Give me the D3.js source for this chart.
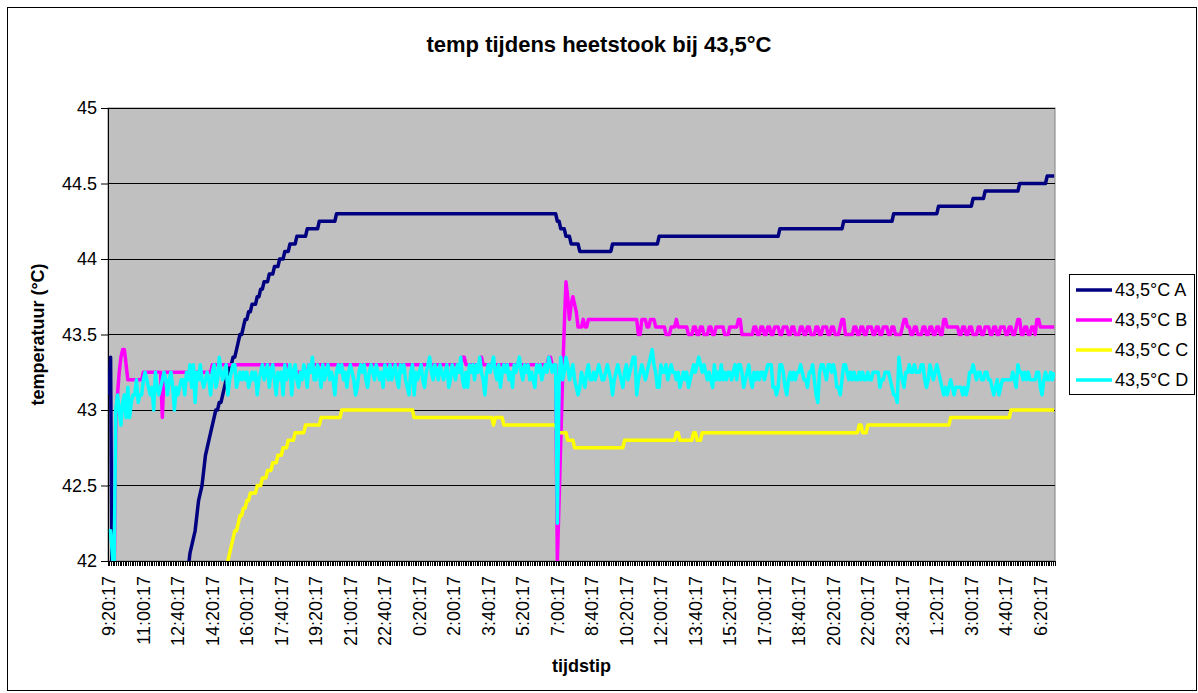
<!DOCTYPE html>
<html>
<head>
<meta charset="utf-8">
<script src="https://cdnjs.cloudflare.com/ajax/libs/d3/7.8.5/d3.min.js"></script>
<style>
    body { margin: 0; background: #fff; }
    text { font-family: "Liberation Sans", Arial, sans-serif; }
</style>
</head>
<body>
<div id="chart"></div>
<script>
// tick labels, one every 20 samples (samples are 5 minutes apart)
var xLabels = ["9:20:17", "11:00:17", "12:40:17", "14:20:17", "16:00:17", "17:40:17", "19:20:17",
    "21:00:17", "22:40:17", "0:20:17", "2:00:17", "3:40:17", "5:20:17", "7:00:17", "8:40:17",
    "10:20:17", "12:00:17", "13:40:17", "15:20:17", "17:00:17", "18:40:17", "20:20:17", "22:00:17",
    "23:40:17", "1:20:17", "3:00:17", "4:40:17", "6:20:17"];
var yTicks = [42, 42.5, 43, 43.5, 44, 44.5, 45];
var seriesNames = ["43,5°C A", "43,5°C B", "43,5°C C", "43,5°C D"];
var seriesColors = ["#000080", "#ff00ff", "#ffff00", "#00ffff"];

// step-like series kept as [value, how many samples]
var runsA = [[43.1,1],[43.35,1],[41.5,40],[41.7,1],[41.75,1],[41.85,1],[41.9,1],[41.95,1],
    [42.05,1],[42.1,1],[42.15,1],[42.2,1],[42.3,1],[42.4,1],[42.45,1],[42.5,1],[42.6,1],[42.7,1],
    [42.75,1],[42.8,1],[42.85,1],[42.9,1],[42.95,1],[43,2],[43.05,2],[43.1,1],[43.15,1],[43.2,1],
    [43.25,1],[43.3,2],[43.35,2],[43.4,1],[43.45,1],[43.5,2],[43.55,1],[43.6,2],[43.65,2],[43.7,3],
    [43.75,2],[43.8,2],[43.85,3],[43.9,3],[43.95,3],[44,3],[44.05,3],[44.1,4],[44.15,6],[44.2,7],
    [44.25,10],[44.3,128],[44.25,2],[44.2,3],[44.15,3],[44.1,5],[44.05,19],[44.1,27],[44.15,70],
    [44.2,37],[44.25,29],[44.3,26],[44.35,20],[44.4,7],[44.45,20],[44.5,16],[44.55,5]];

var runsB = [[41.8,4],[42.95,1],[43.1,1],[43.25,1],[43.35,1],[43.4,2],[43.3,1],[43.2,9],[43.25,11],
    [42.95,1],[43.25,28],[43.3,44],[43.25,12],[43.3,89],[43.35,2],[43.3,9],[43.35,1],[43.3,38],
    [43.35,2],[43.3,3],[42,1],[42.4,1],[42.8,1],[43.2,1],[43.55,1],[43.85,1],[43.75,1],[43.6,1],
    [43.7,1],[43.75,1],[43.7,1],[43.65,1],[43.55,3],[43.6,1],[43.55,2],[43.6,29],[43.5,2],[43.6,3],
    [43.55,2],[43.6,3],[43.55,6],[43.5,3],[43.55,3],[43.6,1],[43.55,6],[43.5,3],[43.55,2],[43.5,2],
    [43.55,2],[43.5,3],[43.55,2],[43.5,2],
    [43.55,5],[43.5,3],[43.55,5],[43.6,2],[43.5,7],[43.55,2],[43.5,2],[43.55,2],[43.5,2],[43.55,2],
    [43.5,2],[43.55,3],[43.5,2],[43.55,3],[43.5,2],[43.55,2],[43.5,3],[43.55,2],[43.5,2],[43.55,2],
    [43.5,3],[43.55,2],[43.5,2],[43.55,3],[43.5,2],[43.55,2],[43.5,3],[43.55,1],[43.6,2],[43.5,5],
    [43.55,2],[43.5,2],[43.55,2],[43.5,2],[43.55,3],[43.5,2],
    [43.55,2],[43.5,2],[43.55,3],[43.5,2],[43.55,2],[43.5,4],[43.55,1],[43.6,2],[43.55,2],[43.5,2],
    [43.55,2],[43.5,3],[43.55,2],[43.5,2],[43.55,2],[43.5,2],[43.55,2],[43.5,2],[43.6,2],[43.55,7],
    [43.5,2],[43.55,2],[43.5,2],[43.55,2],[43.5,3],[43.55,2],[43.5,2],[43.55,3],[43.5,2],[43.55,2],
    [43.5,2],[43.55,3],[43.5,2],[43.55,2],[43.5,2],[43.55,1],[43.6,2],[43.5,2],[43.55,2],[43.5,2],
    [43.55,2],[43.5,1],[43.6,2],[43.55,9]];

var runsC = [[41.5,61],[41.6,1],[41.65,1],[41.7,1],[41.75,1],[41.8,1],[41.85,1],[41.9,1],[41.95,1],
    [42,1],[42.05,1],[42.1,1],[42.15,1],[42.2,2],[42.25,1],[42.3,2],[42.35,2],[42.4,2],[42.45,4],
    [42.5,3],[42.55,3],[42.6,3],[42.65,3],[42.7,3],[42.75,3],[42.8,4],[42.85,6],[42.9,9],[42.95,12],
    [43,42],[42.95,46],[42.9,1],[42.95,5],[42.9,31],[42.85,6],[42.8,4],[42.75,29],[42.8,30],
    [42.85,2],[42.8,8],[42.85,2],[42.8,3],[42.85,91],[42.9,2],[42.85,3],[42.9,48],[42.95,35],[43,26]];

// noisy series, one value per sample (20 per line)
var valuesD = [
    42.2, 42.2, 42.05, 41.9, 43.0, 43.1, 43.0, 42.9, 43.05, 43.1, 42.95, 43.15, 42.95, 43.05, 43.1, 43.1, 43.2, 43.05, 43.1, 43.1,
    43.2, 43.25, 43.2, 43.15, 43.1, 43.15, 43.0, 43.25, 43.15, 43.1, 43.15, 43.2, 43.25, 43.2, 43.1, 43.2, 43.25, 43.15, 43.0, 43.15,
    43.1, 43.15, 43.2, 43.2, 43.1, 43.25, 43.2, 43.3, 43.15, 43.3, 43.05, 43.25, 43.2, 43.3, 43.2, 43.15, 43.2, 43.25, 43.2, 43.1,
    43.25, 43.3, 43.15, 43.2, 43.35, 43.25, 43.2, 43.25, 43.3, 43.1, 43.2, 43.25, 43.3, 43.3, 43.15, 43.2, 43.25, 43.2, 43.25, 43.2,
    43.25, 43.15, 43.2, 43.25, 43.2, 43.25, 43.1, 43.2, 43.25, 43.3, 43.2, 43.25, 43.3, 43.15, 43.25, 43.3, 43.2, 43.1, 43.25, 43.2,
    43.25, 43.1, 43.3, 43.2, 43.25, 43.3, 43.1, 43.25, 43.3, 43.2, 43.15, 43.25, 43.2, 43.3, 43.25, 43.15, 43.3, 43.25, 43.35, 43.2,
    43.2, 43.3, 43.25, 43.15, 43.3, 43.2, 43.25, 43.3, 43.2, 43.25, 43.2, 43.1, 43.25, 43.3, 43.25, 43.3, 43.2, 43.25, 43.15, 43.25,
    43.3, 43.25, 43.2, 43.1, 43.15, 43.25, 43.3, 43.25, 43.3, 43.2, 43.15, 43.25, 43.3, 43.25, 43.2, 43.3, 43.25, 43.2, 43.25, 43.15,
    43.3, 43.25, 43.2, 43.3, 43.2, 43.25, 43.3, 43.2, 43.15, 43.3, 43.25, 43.3, 43.2, 43.15, 43.1, 43.25, 43.3, 43.1, 43.25, 43.2,
    43.25, 43.3, 43.2, 43.15, 43.25, 43.3, 43.35, 43.25, 43.2, 43.3, 43.25, 43.2, 43.3, 43.25, 43.2, 43.25, 43.3, 43.15, 43.2, 43.3,
    43.25, 43.2, 43.3, 43.25, 43.35, 43.2, 43.15, 43.25, 43.15, 43.3, 43.25, 43.3, 43.2, 43.3, 43.25, 43.35, 43.25, 43.2, 43.1, 43.25,
    43.3, 43.25, 43.3, 43.35, 43.25, 43.2, 43.3, 43.15, 43.25, 43.3, 43.25, 43.3, 43.2, 43.25, 43.15, 43.3, 43.25, 43.3, 43.35, 43.25,
    43.2, 43.3, 43.25, 43.3, 43.2, 43.25, 43.2, 43.15, 43.3, 43.25, 43.3, 43.2, 43.25, 43.3, 43.25, 43.35, 43.3, 43.25, 43.3, 43.3,
    42.25, 43.2, 43.35, 43.2, 43.25, 43.35, 43.3, 43.2, 43.25, 43.3, 43.2, 43.15, 43.1, 43.15, 43.25, 43.2, 43.15, 43.25, 43.3, 43.2,
    43.2, 43.25, 43.2, 43.25, 43.3, 43.25, 43.2, 43.2, 43.25, 43.3, 43.25, 43.2, 43.1, 43.2, 43.25, 43.3, 43.25, 43.2, 43.15, 43.25,
    43.3, 43.2, 43.25, 43.3, 43.35, 43.35, 43.1, 43.2, 43.25, 43.3, 43.25, 43.2, 43.25, 43.3, 43.35, 43.4, 43.3, 43.25, 43.15, 43.15,
    43.3, 43.25, 43.25, 43.3, 43.2, 43.25, 43.3, 43.25, 43.25, 43.2, 43.25, 43.15, 43.2, 43.25, 43.2, 43.25, 43.15, 43.2, 43.25, 43.3,
    43.25, 43.3, 43.35, 43.3, 43.25, 43.3, 43.25, 43.2, 43.25, 43.2, 43.15, 43.3, 43.2, 43.25, 43.2, 43.3, 43.2, 43.25, 43.2, 43.25,
    43.25, 43.2, 43.25, 43.3, 43.2, 43.3, 43.3, 43.25, 43.15, 43.2, 43.25, 43.3, 43.2, 43.15, 43.25, 43.2, 43.25, 43.2, 43.25, 43.25,
    43.2, 43.25, 43.3, 43.3, 43.3, 43.15, 43.15, 43.1, 43.15, 43.3, 43.3, 43.25, 43.15, 43.1, 43.2, 43.25, 43.2, 43.25, 43.2, 43.25,
    43.25, 43.3, 43.25, 43.2, 43.2, 43.15, 43.25, 43.25, 43.3, 43.2, 43.1, 43.05, 43.25, 43.3, 43.3, 43.25, 43.2, 43.3, 43.3, 43.25,
    43.3, 43.25, 43.15, 43.15, 43.1, 43.2, 43.3, 43.3, 43.25, 43.2, 43.25, 43.2, 43.25, 43.2, 43.2, 43.25, 43.2, 43.25, 43.2, 43.2,
    43.25, 43.2, 43.2, 43.25, 43.25, 43.25, 43.25, 43.15, 43.2, 43.2, 43.25, 43.25, 43.25, 43.2, 43.15, 43.1, 43.1, 43.05, 43.35, 43.25,
    43.2, 43.15, 43.25, 43.25, 43.3, 43.25, 43.25, 43.3, 43.25, 43.25, 43.25, 43.3, 43.3, 43.2, 43.15, 43.2, 43.3, 43.25, 43.2, 43.25,
    43.3, 43.25, 43.2, 43.15, 43.1, 43.15, 43.1, 43.15, 43.2, 43.15, 43.1, 43.15, 43.15, 43.15, 43.15, 43.1, 43.15, 43.1, 43.15, 43.25,
    43.25, 43.3, 43.25, 43.2, 43.25, 43.25, 43.2, 43.2, 43.25, 43.25, 43.2, 43.2, 43.15, 43.1, 43.15, 43.2, 43.1, 43.15, 43.2, 43.2,
    43.2, 43.2, 43.2, 43.2, 43.25, 43.2, 43.15, 43.3, 43.25, 43.25, 43.2, 43.25, 43.2, 43.25, 43.2, 43.2, 43.2, 43.2, 43.25, 43.25,
    43.15, 43.1, 43.2, 43.25, 43.2, 43.2, 43.25, 43.2, 43.25];

function expand(runs) {
    var out = [];
    runs.forEach(function(r) {
        for (var k = 0; k < r[1]; k++) out.push(r[0]);
    });
    return out;
}

var series = [expand(runsA), expand(runsB), expand(runsC), valuesD];
var n = valuesD.length;
series.forEach(function(s, i) {
    if (s.length !== n) throw new Error("series " + i + " has " + s.length + " points, expected " + n);
});

var width = 1198, height = 693;
var plot = {left: 108, right: 1055, top: 108, bottom: 561};

var svg = d3.select("#chart").append("svg")
    .attr("width", width)
    .attr("height", height);

// chart area border
svg.append("rect")
    .attr("x", 7.5).attr("y", 7.5)
    .attr("width", 1189).attr("height", 683)
    .attr("fill", "#fff")
    .attr("stroke", "#000");

var x = d3.scaleBand()
    .domain(d3.range(n))
    .range([plot.left, plot.right]);

var y = d3.scaleLinear()
    .domain([42, 45])
    .range([plot.bottom, plot.top]);

// plot background
svg.append("rect")
    .attr("x", plot.left).attr("y", plot.top)
    .attr("width", plot.right - plot.left)
    .attr("height", plot.bottom - plot.top)
    .attr("fill", "#c0c0c0")
    .attr("stroke", "#808080");

// gridlines (the top one doubles as the plot border)
svg.append("g")
    .selectAll("line")
    .data(yTicks.slice(1))
    .enter().append("line")
    .attr("x1", plot.left).attr("x2", plot.right)
    .attr("y1", function(d) { return y(d); })
    .attr("y2", function(d) { return y(d); })
    .attr("stroke", "#000")
    .attr("shape-rendering", "crispEdges");

// y axis
var yAxis = svg.append("g")
    .attr("transform", "translate(" + plot.left + ",0)")
    .call(d3.axisLeft(y).tickValues(yTicks).tickSize(7).tickPadding(4).tickFormat(d3.format("")));
yAxis.select(".domain").attr("stroke", "#000");
yAxis.selectAll("text")
    .attr("font-size", 18)
    .attr("font-family", "Liberation Sans, Arial, sans-serif")
    .attr("fill", "#000");

// x axis: labels every 20 samples, small tick at every sample boundary
var xAxis = svg.append("g")
    .attr("transform", "translate(0," + plot.bottom + ")")
    .call(d3.axisBottom(x)
        .tickValues(d3.range(0, n, 20))
        .tickSize(0)
        .tickFormat(function(d) { return xLabels[d / 20]; }));
xAxis.select(".domain").remove();
xAxis.selectAll("text")
    .attr("font-size", 18)
    .attr("font-family", "Liberation Sans, Arial, sans-serif")
    .attr("fill", "#000")
    .attr("transform", "rotate(-90)")
    .attr("text-anchor", "end")
    .attr("x", -15)
    .attr("y", 0)
    .attr("dy", "0.35em");

svg.append("g")
    .selectAll("line")
    .data(d3.range(n + 1))
    .enter().append("line")
    .attr("x1", function(d) { return d < n ? x(d) : plot.right; })
    .attr("x2", function(d) { return d < n ? x(d) : plot.right; })
    .attr("y1", plot.bottom)
    .attr("y2", plot.bottom + 5)
    .attr("stroke", "#000")
    .attr("stroke-width", 1)
    .attr("shape-rendering", "crispEdges");

svg.append("line")
    .attr("x1", plot.left).attr("x2", plot.right)
    .attr("y1", plot.bottom).attr("y2", plot.bottom)
    .attr("stroke", "#000")
    .attr("shape-rendering", "crispEdges");

// lines, clipped to the plot area
svg.append("clipPath")
    .attr("id", "plotclip")
    .append("rect")
    .attr("x", plot.left).attr("y", plot.top)
    .attr("width", plot.right - plot.left)
    .attr("height", plot.bottom - plot.top);

var line = d3.line()
    .x(function(d, i) { return x(i) + x.bandwidth() / 2; })
    .y(function(d) { return y(d); });

svg.append("g")
    .attr("clip-path", "url(#plotclip)")
    .selectAll("path")
    .data(series)
    .enter().append("path")
    .attr("d", line)
    .attr("fill", "none")
    .attr("stroke", function(d, i) { return seriesColors[i]; })
    .attr("stroke-width", 3.5)
    .attr("stroke-linejoin", "round");

// titles
svg.append("text")
    .attr("x", 599).attr("y", 52)
    .attr("text-anchor", "middle")
    .attr("font-size", 22)
    .attr("font-weight", "bold")
    .text("temp tijdens heetstook bij 43,5°C");

svg.append("text")
    .attr("x", (plot.left + plot.right) / 2).attr("y", 672)
    .attr("text-anchor", "middle")
    .attr("font-size", 18)
    .attr("font-weight", "bold")
    .text("tijdstip");

svg.append("text")
    .attr("transform", "translate(38," + (plot.top + plot.bottom) / 2 + ") rotate(-90)")
    .attr("text-anchor", "middle")
    .attr("dy", "0.35em")
    .attr("font-size", 18)
    .attr("font-weight", "bold")
    .text("temperatuur (°C)");

// legend
var legend = svg.append("g");
legend.append("rect")
    .attr("x", 1069.5).attr("y", 274.5)
    .attr("width", 125).attr("height", 120)
    .attr("fill", "#fff")
    .attr("stroke", "#000");

var items = legend.selectAll("g.item")
    .data(seriesNames)
    .enter().append("g")
    .attr("class", "item")
    .attr("transform", function(d, i) { return "translate(0," + (290 + i * 30) + ")"; });
items.append("line")
    .attr("x1", 1076).attr("x2", 1112)
    .attr("stroke", function(d, i) { return seriesColors[i]; })
    .attr("stroke-width", 3.5);
items.append("text")
    .attr("x", 1115)
    .attr("dy", "0.35em")
    .attr("font-size", 18)
    .text(function(d) { return d; });
</script>
</body>
</html>
